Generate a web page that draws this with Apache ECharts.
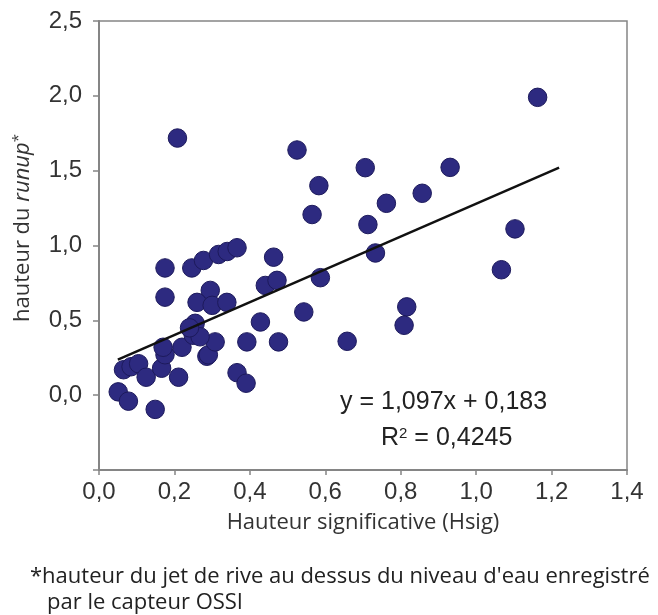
<!DOCTYPE html>
<html>
<head>
<meta charset="utf-8">
<script src="https://cdn.jsdelivr.net/npm/echarts@6/dist/echarts.min.js"></script>
<style>
html,body{margin:0;padding:0;background:#fff;}
#chart{width:658px;height:615px;}
</style>
</head>
<body>
<div id="chart"></div>
<script>
// Hsig (x) values of observed points
const hsig = [0.051,0.078,0.149,0.065,0.085,0.105,0.125,0.166,0.175,0.211,0.22,0.25,0.255,0.286,0.29,0.308,0.366,0.39,0.392,0.428,0.476,0.543,0.175,0.175,0.246,0.277,0.317,0.34,0.366,0.295,0.26,0.30,0.339,0.463,0.441,0.472,0.587,0.658,0.208,0.525,0.583,0.565,0.706,0.713,0.733,0.762,0.857,0.931,1.163,1.103,1.067,0.816,0.809,0.268,0.17,0.24];
// runup height (y) values
const runup = [0.022,-0.04,-0.095,0.17,0.19,0.21,0.12,0.18,0.27,0.12,0.32,0.40,0.48,0.26,0.27,0.356,0.15,0.08,0.356,0.489,0.356,0.556,0.655,0.85,0.85,0.90,0.94,0.96,0.985,0.70,0.62,0.60,0.62,0.922,0.733,0.767,0.785,0.36,1.718,1.638,1.40,1.207,1.52,1.14,0.95,1.282,1.349,1.522,1.99,1.111,0.838,0.59,0.467,0.39,0.32,0.45];
// regression line end points
const trendX = [0.05, 1.22];
const trendY = [0.238, 1.521];
const xTicks = ['0,0','0,2','0,4','0,6','0,8','1,0','1,2','1,4'];
const yTicks = ['0,0','0,5','1,0','1,5','2,0','2,5'];
const equationText = 'y = 1,097x + 0,183';
const r2Value = '0,4245';

const points = hsig.map((x, i) => [x, runup[i]]);
const trend = trendX.map((x, i) => [x, trendY[i]]);

const chart = echarts.init(document.getElementById('chart'));
const axisColor = '#858585';
const fmt = v => v.toFixed(1).replace('.', ',');
chart.setOption({
  animation: false,
  backgroundColor: '#ffffff',
  grid: { left: 99, right: 31, top: 21, bottom: 145, show: true, borderColor: axisColor, borderWidth: 1.5 },
  xAxis: {
    type: 'value', min: 0, max: 1.4, interval: 0.2,
    name: 'Hauteur significative (Hsig)', nameLocation: 'middle', nameGap: 42,
    nameTextStyle: { fontFamily: 'Open Sans', fontSize: 22, color: '#333' },
    axisLine: { show: true, onZero: false, lineStyle: { color: axisColor, width: 2 } },
    axisTick: { show: true, length: 5, lineStyle: { color: axisColor, width: 1.5 } },
    axisLabel: { fontFamily: 'Liberation Sans', fontSize: 24, color: '#333', margin: 10,
      formatter: v => { const i = Math.round(v / 0.2); return xTicks[i] !== undefined ? xTicks[i] : fmt(v); } },
    splitLine: { show: false }
  },
  yAxis: {
    type: 'value', min: -0.5, max: 2.5, interval: 0.5,
    axisLine: { show: true, onZero: false, lineStyle: { color: axisColor, width: 2 } },
    axisTick: { show: true, length: 6, lineStyle: { color: axisColor, width: 1.5 } },
    axisLabel: { fontFamily: 'Liberation Sans', fontSize: 24, color: '#333', margin: 17,
      formatter: v => { if (v < 0) return ''; const i = Math.round(v / 0.5); return yTicks[i] !== undefined ? yTicks[i] : fmt(v); } },
    splitLine: { show: false }
  },
  series: [
    {
      type: 'scatter', data: points, symbolSize: 18.5, z: 2,
      itemStyle: { color: '#2d2a80', borderColor: '#1d1a5c', borderWidth: 1, opacity: 1 }
    },
    {
      type: 'line', data: trend, symbol: 'none', z: 3,
      lineStyle: { color: '#111', width: 2.5 }
    }
  ],
  graphic: [
    { type: 'text', x: 23, y: 228, rotation: Math.PI / 2, style: {
        text: '{n|hauteur du }{i|runup}{s|*}', align: 'center', verticalAlign: 'middle',
        rich: {
          n: { fontFamily: 'Open Sans', fontSize: 22, fill: '#333' },
          i: { fontFamily: 'Open Sans', fontStyle: 'italic', fontSize: 22, fill: '#333' },
          s: { fontFamily: 'Open Sans', fontSize: 15, fill: '#333', verticalAlign: 'top', padding: [0,0,8,0] }
        } } },
    { type: 'text', left: 340, top: 390, style: { text: equationText, font: '25px "Liberation Sans"', fill: '#222' } },
    { type: 'text', left: 381, top: 426, style: {
        text: '{a|R}{s|2}{a| = ' + r2Value + '}',
        rich: { a: { font: '25px "Liberation Sans"', fill: '#222' }, s: { font: '15px "Liberation Sans"', fill: '#222', verticalAlign: 'top', padding: [0,0,10,0] } } } },
    { type: 'text', left: 30, top: 566, style: { text: "*hauteur du jet de rive au dessus du niveau d'eau enregistré", font: '22px "Open Sans"', fill: '#222' } },
    { type: 'text', left: 47, top: 592, style: { text: 'par le capteur OSSI', font: '22px "Open Sans"', fill: '#222' } }
  ]
});
</script>
</body>
</html>
